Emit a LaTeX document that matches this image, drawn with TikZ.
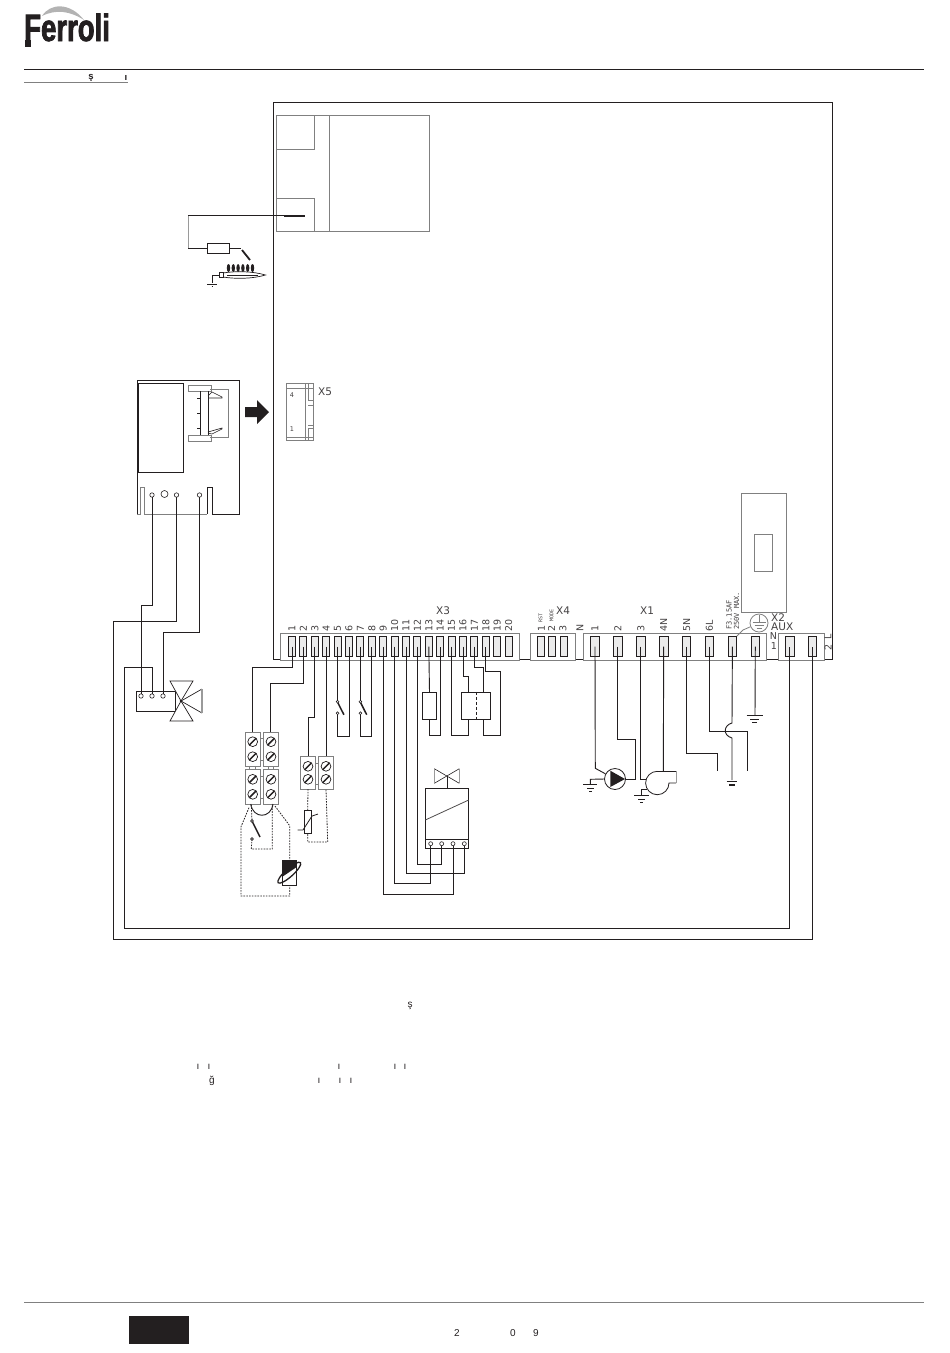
\documentclass[tikz,border=0pt]{standalone}
\usepackage{fontspec}
\setmainfont{Liberation Sans}
\newfontfamily\labfont{DejaVu Sans}
\newfontfamily\monofont{DejaVu Sans Mono}
\newfontfamily\logofont[FakeStretch=.725,BoldFeatures={FakeBold=2}]{Liberation Sans}
\usetikzlibrary{calc}
\definecolor{ink}{RGB}{35,31,32}
\definecolor{pale}{RGB}{128,128,128}
\tikzset{
	wire/.style={ink,line width=.92pt,line join=miter},
	outl/.style={pale,line width=.8pt},
	dotw/.style={ink,line width=.8pt,dash pattern=on 1.6pt off 1.2pt},
	xterm/.style={draw=ink,fill=black!8,line width=.85pt,minimum width=7pt,minimum height=20pt,inner sep=0pt,outer sep=0pt},
	ximm/.style={xterm,minimum width=8.5pt},
	pin/.style={circle,draw=ink,fill=white,line width=.6pt,minimum size=4.4pt,inner sep=0pt,outer sep=0pt},
	tblock/.style={draw=pale,fill=white,line width=.9pt,inner sep=0pt,outer sep=0pt,minimum width=15pt},
	numlab/.style={rotate=90,anchor=west,inner sep=0pt,text=ink!85,font=\labfont\fontsize{9.5}{9.5}\selectfont},
	tinylab/.style={rotate=90,anchor=west,inner sep=0pt,text=ink!85,font=\monofont\fontsize{5}{5}\selectfont},
	fuselab/.style={rotate=90,anchor=west,inner sep=0pt,text=ink!85,font=\monofont\fontsize{7}{7}\selectfont},
	namelab/.style={inner sep=0pt,text=ink!85,font=\labfont\fontsize{10.5}{10.5}\selectfont},
	pagetxt/.style={inner sep=0pt,text=ink,font=\fontsize{10}{10}\selectfont},
}
\begin{document}
\begin{tikzpicture}[x=1pt,y=-1pt]
	\useasboundingbox (0,0) rectangle (950,1353);
	% header
	\fill[pale!60] (42,16) .. controls (50,3) and (70,2) .. (84,20) .. controls (70,11) and (56,9) .. (42,16);
	\node[anchor=base west,inner sep=0pt,text=ink,font=\logofont\bfseries\fontsize{38}{38}\selectfont] (logo) at (24,41) {Ferroli};
	\fill[ink] (24.5,40) rectangle (31,47);
	\draw[ink,line width=1.4pt] (24,69.5) -- (924,69.5);
	\draw[pale,line width=1.4pt] (24,82.5) -- (128,82.5);
	\node[pagetxt,font=\bfseries\fontsize{9.5}{9.5}\selectfont] (hs) at (91,78) {ş};
	\node[pagetxt,font=\bfseries\fontsize{9.5}{9.5}\selectfont] (hi) at (126,78) {ı};
	% board
	\draw[ink,line width=1pt] (281,659) -- (273.7,659) -- (273.7,102) -- (832,102) -- (832,659) -- (824,659);
	\draw[ink,line width=1pt] (519,659) -- (530,659);
	\draw[ink,line width=1pt] (575,659) -- (583,659);
	\draw[ink,line width=1pt] (766,659) -- (778,659);
	\draw[outl] (276.7,115.3) rectangle (429.7,231.5);
	\draw[outl] (276.7,149.7) -- (314,149.7) -- (314,115.3);
	\draw[outl] (276.7,198) -- (314,198) -- (314,231.5);
	\draw[outl] (329,115.3) -- (329,231.5);
	\draw[outl] (741.7,493) rectangle (786.5,612);
	\draw[outl] (754,534) rectangle (772,571);
	% ignition
	\node[draw=ink,line width=.9pt,minimum width=22pt,minimum height=10pt,inner sep=0pt] (igres) at (218,248) {};
	\coordinate (igcon) at (284,215.5);
	\draw[wire] (igcon) -- (188,215.5);
	\draw[pale!80,line width=1pt] (188,215.5) -- (188,248);
	\draw[wire] (188,248) -- (igres);
	\draw[wire] (igres) -- (241,248);
	\draw[ink,line width=2pt] (284,215.5) -- (305,215.5);
	\draw[ink,line width=1.8pt] (242,250) -- (250,260);
	\draw[ink,line width=.7pt] (223,273) .. controls (235,271) and (252,271) .. (265.5,275) .. controls (252,279) and (235,279) .. (223,277);
	\draw[ink,line width=.7pt] (219,272) rectangle (223,277);
	\foreach \i in {0,...,5}
		\fill[ink] ({228.5+4.8*\i},268) ellipse (1.7 and 4);
	\draw[ink,line width=.7pt] (227,275) -- (258,275);
	\draw[ink,line width=.7pt] (219,275) -- (212,275) -- (212,283);
	\draw[ink,line width=.8pt] (207,284) -- (217,284);
	\draw[ink,line width=.8pt] (211.5,286.5) -- (212.5,286.5);
	% X5
	\draw[outl] (286,383) rectangle (313,440);
	\draw[outl] (286,388) -- (313,388);
	\draw[outl] (286,437) -- (313,437);
	\draw[outl] (305,383) -- (305,440);
	\draw[outl] (308,383) -- (308,400) -- (313,400);
	\draw[outl] (308,405) -- (313,405);
	\draw[outl] (308,440) -- (308,428) -- (313,428);
	\draw[outl] (308,425) -- (313,425);
	\node[inner sep=0pt,text=ink!85,font=\labfont\fontsize{6.5}{6.5}\selectfont] (xv4) at (292,395) {4};
	\node[inner sep=0pt,text=ink!85,font=\labfont\fontsize{6.5}{6.5}\selectfont] (xv1) at (292,429) {1};
	\node[namelab] (xv) at (325,392) {X5};
	\fill[ink] (245,407) -- (257,407) -- (257,400) -- (269,412) -- (257,424) -- (257,417) -- (245,417) -- cycle;
	% left module
	\draw[ink,line width=.9pt] (137,514) -- (137,380) -- (239.5,380) -- (239.5,514) -- (212,514) -- (212,487) -- (207,487) -- (207,514);
	\draw[outl] (207,514) -- (144,514) -- (144,487) -- (140.5,487) -- (140.5,514) -- (137,514);
	\draw[ink,line width=.9pt] (138,383) rectangle (183,472);
	\draw[outl] (188,385) rectangle (211,391);
	\draw[outl] (188,435) rectangle (211,441);
	\draw[outl] (210,389) -- (228,389) -- (228,437) -- (210,437);
	\draw[ink,line width=.8pt] (200,391) -- (200,435);
	\draw[ink,line width=.8pt] (208,391) -- (208,435);
	\draw[ink,line width=.8pt] (200,398) -- (197,398);
	\draw[ink,line width=.8pt] (200,413) -- (197,413);
	\draw[ink,line width=.8pt] (200,428) -- (197,428);
	\draw[ink,line width=.6pt] (208,396) -- (212,392) -- (222,397) -- (222,398) -- (209,398);
	\draw[ink,line width=.6pt] (208,432) -- (222,428) -- (222,429) -- (212,434) -- (208,433);
	\node[pin] (lma) at (152,495) {};
	\node[pin,minimum size=7pt] (lmb) at (164.5,494) {};
	\node[pin] (lmc) at (176.5,495) {};
	\node[pin] (lmd) at (199.5,495) {};
	% X3
	\draw[outl,fill=white] (280.7,633) rectangle (519.3,660);
	\foreach \i in {1,...,20} {
		\node[xterm] (xiii\i) at ({292+11.4*(\i-1)},646.7) {};
		\node[numlab] (nxiii\i) at ({292+11.4*(\i-1)},631.5) {\i};
	}
	\node[namelab] (xiii) at (443,610.5) {X3};
	% X4
	\draw[outl,fill=white] (530,633) rectangle (575,660);
	\node[xterm] (xiva) at (541,646.7) {};
	\node[xterm] (xivb) at (552,646.7) {};
	\node[xterm] (xivc) at (563.5,646.7) {};
	\node[numlab] (nxiva) at (541.5,631.5) {1};
	\node[numlab] (nxivb) at (551.5,631.5) {2};
	\node[numlab] (nxivc) at (563,631.5) {3};
	\node[tinylab] (nrst) at (540.5,623) {RST};
	\node[tinylab] (nmode) at (551.5,621.5) {MODE};
	\node[namelab] (xiv) at (563,611) {X4};
	\node[numlab] (nn) at (580,632) {N};
	% X1
	\draw[outl,fill=white] (583,633) rectangle (766,660);
	\foreach \i/\t in {1/1,2/2,3/3,4/4N,5/5N,6/6L,7/,8/} {
		\node[ximm] (xi\i) at ({595+22.9*(\i-1)},646.7) {};
		\node[numlab] (nxi\i) at ({595+22.9*(\i-1)},631.5) {\t};
	}
	\node[namelab] (xi) at (647,611) {X1};
	\node[fuselab] (nfuse) at (729,630) {F3.15AF};
	\node[fuselab] (nmax) at (736.5,630) {250V MAX.};
	% X2
	\draw[outl,fill=white] (778,633) rectangle (824,660);
	\node[ximm] (xiia) at (789.7,646.7) {};
	\node[ximm] (xiib) at (812.3,646.7) {};
	\node[circle,draw=pale,line width=.8pt,minimum size=18pt,inner sep=0pt] (ering) at (759,623) {};
	\draw[outl] (759,615) -- (759,622.5);
	\draw[outl] (752.5,622.5) -- (765.5,622.5);
	\draw[outl] (754.5,625.5) -- (763.5,625.5);
	\draw[outl] (756.5,628) -- (761.5,628);
	\draw[outl] (737,636) -- (743,630) -- (ering);
	\node[namelab,anchor=west,font=\labfont\fontsize{10.5}{10.5}\selectfont] (xii) at (771,617.5) {X2};
	\node[namelab,anchor=west,font=\labfont\fontsize{10.5}{10.5}\selectfont] (naux) at (771,626.5) {AUX};
	\node[namelab,font=\labfont\fontsize{9.5}{9.5}\selectfont] (nauxn) at (773.5,636.5) {N};
	\node[namelab,font=\labfont\fontsize{9.5}{9.5}\selectfont] (nauxo) at (774,646) {1};
	\node[numlab] (nauxl) at (828,640) {L};
	\node[numlab] (nauxt) at (828,651) {2};
	% three-way valve
	\draw[wire] (136,691) rectangle (175,711);
	\fill[white] (170,681) -- (193,681) -- (181,701) -- (202,689) -- (202,713) -- (181,701) -- (193,721) -- (170,721) -- (181,701) -- cycle;
	\draw[ink,line width=.7pt] (181,701) -- (170,681) -- (193,681) -- cycle;
	\draw[ink,line width=.7pt] (181,701) -- (170,721) -- (193,721) -- cycle;
	\draw[ink,line width=.7pt] (202,689) -- (181,701) -- (202,713);
	\draw[pale!80,line width=1.1pt] (202,689) -- (202,713);
	\fill[ink] (181,701) circle (1.4);
	\node[pin] (vla) at (141,696) {};
	\node[pin] (vlb) at (152,696) {};
	\node[pin] (vlc) at (163,696) {};
	% terminal strips
	\node[tblock,minimum height=34pt] (tsa) at (252.5,749) {};
	\node[tblock,minimum height=34pt] (tsb) at (270.5,749) {};
	\node[tblock,minimum height=35pt] (tsc) at (252.5,786.5) {};
	\node[tblock,minimum height=35pt] (tsd) at (270.5,786.5) {};
	\node[tblock,minimum height=33pt] (tse) at (308,772.5) {};
	\node[tblock,minimum height=33pt] (tsf) at (326,772.5) {};
	\foreach \px/\py in {252.7/741.7,252.7/756.7,271/741.7,271/756.7,252.7/779.3,252.7/794.3,271/779.3,271/794.3,308/766.3,308/779.3,326/766.3,326/779.3} {
		\draw[ink,line width=.7pt,fill=white] (\px,\py) circle (4.9);
		\draw[ink,line width=1.5pt] (\px-3.3,\py+3.3) -- (\px+3.3,\py-3.3);
	}
	\draw[outl] (260,738) -- (263,738);
	\draw[outl] (260,760) -- (263,760);
	\draw[outl] (260,776) -- (263,776);
	\draw[outl] (260,798) -- (263,798);
	\draw[outl] (315.5,763) -- (318.5,763);
	\draw[outl] (315.5,784) -- (318.5,784);
	\foreach \bx in {249,255,268,273}
		\draw[outl] (\bx,766) -- (\bx,769);
	\draw[wire] (250.7,804) .. controls (253,819) and (271,819) .. (273,804);
	% sensors and gas valve coil
	\coordinate (swa) at (252,821);
	\coordinate (swb) at (252,839);
	\draw[dotw] (251.3,804.5) -- (swa);
	\draw[dotw] (swb) -- (251.3,849) -- (272.3,849) -- (272.3,804);
	\draw[ink,line width=1.5pt] (252.5,822) -- (260,837);
	\draw[ink,line width=.6pt,fill=white] (swa) circle (1.4);
	\draw[ink,line width=.6pt,fill=white] (swb) circle (1.4);
	\coordinate (cola) at (289.7,860);
	\coordinate (colb) at (289.7,885);
	\draw[dotw] (249,807.7) -- (241,826.7) -- (241,896) -- (289.7,896) -- (colb);
	\draw[dotw] (275,806) -- (289.7,825.7) -- (cola);
	\draw[ink,line width=.8pt] (282,860) rectangle (296.7,885);
	\fill[ink] (282,860) -- (296.7,860) -- (296.7,867) -- (282,877) -- cycle;
	\draw[ink,line width=1.3pt,rotate around={42:(289.3,872.7)}] (289.3,872.7) ellipse (15 and 4);
	\draw[ink,line width=.9pt] (282,860) -- (282,885);
	\node[draw=ink,line width=.8pt,fill=white,minimum width=7.5pt,minimum height=23.5pt,inner sep=0pt] (ntc) at (307.7,822) {};
	\draw[ink,line width=.8pt] (297.7,830) -- (303,830) -- (312,816) -- (318,814);
	\draw[dotw] (tse.south) -- (ntc.north);
	\draw[dotw] (ntc.south) -- (307.7,842) -- (327.7,842) -- (tsf.south);
	% gas valve
	\draw[wire] (425.3,788.3) rectangle (468.7,848.3);
	\draw[wire] (425.3,839.3) -- (468.7,839.3);
	\draw[ink!80,line width=.8pt] (425.3,820) -- (468.7,800);
	\foreach \i/\gx in {1/430.7,2/441.7,3/453,4/464.3}
		\node[pin,minimum size=4pt] (gv\i) at (\gx,843.7) {};
	\draw[ink,line width=.6pt] (434.3,768.7) -- (459.3,783.3);
	\draw[ink,line width=.6pt] (434.3,783.3) -- (459.3,768.7);
	\draw[pale!80,line width=1.1pt] (434.3,768.7) -- (434.3,783.3);
	\draw[pale!80,line width=1.1pt] (459.3,768.7) -- (459.3,783.3);
	\draw[wire] (447.3,776) -- (447.3,788.3);
	% load symbols under X3
	\node[draw=ink,line width=.9pt,minimum width=14.4pt,minimum height=27pt,inner sep=0pt] (rly) at (429.5,705.7) {};
	\node[draw=ink,line width=.9pt,minimum width=28.6pt,minimum height=27pt,inner sep=0pt] (rlz) at (476,705.7) {};
	\draw[ink,line width=.8pt,dash pattern=on 3pt off 2pt] (rlz.north) -- (rlz.south);
	% wires from X3
	\draw[wire] (xiii1.center) |- (tsa.north |- 0,667) -- (tsa.north);
	\draw[wire] (xiii2.center) |- (tsb.north |- 0,683) -- (tsb.north);
	\draw[wire] (xiii3.center) |- (tse.north |- 0,717.7) -- (tse.north);
	\draw[wire] (xiii4.center) -- (xiii4 |- tsf.north);
	\foreach \a/\b in {5/6,7/8} {
		\coordinate (swt\a) at ($(xiii\a)+(0,55)$);
		\coordinate (swd\a) at ($(xiii\a)+(0,66.5)$);
		\draw[wire] (xiii\a.center) -- (swt\a);
		\draw[wire] (swd\a) |- (xiii\b |- 0,736) -- (xiii\b.center);
		\draw[ink,line width=1.5pt] ($(swt\a)+(0,.5)$) -- ($(swt\a)+(6.3,13)$);
		\draw[ink,line width=.6pt,fill=white] (swt\a) circle (1.4);
		\draw[ink,line width=.6pt,fill=white] (swd\a) circle (1.4);
	}
	\draw[wire] (xiii9.center) |- (gv3 |- 0,894) -- (gv3);
	\draw[wire] (xiii10.center) |- (gv1 |- 0,883) -- (gv1);
	\draw[wire] (xiii11.center) |- (gv4 |- 0,873) -- (gv4);
	\draw[wire] (xiii12.center) |- (gv2 |- 0,864) -- (gv2);
	\draw[wire] (xiii13.center) -- (rly.north);
	\draw[wire] (rly.south) |- (xiii14 |- 0,735) -- (xiii14.center);
	\draw[wire] (xiii15.center) |- (468.3,735) -- (468.3,719.2);
	\draw[wire] (xiii16.center) |- (468.3,676) -- (468.3,692.2);
	\draw[wire] (xiii17.center) |- (483.3,667.7) -- (483.3,692.2);
	\draw[wire] (483.3,719.2) |- (500,735) -- (500,671.3) -| (xiii18.center);
	% wires from X1
	\node[circle,draw=ink,fill=white,line width=.8pt,minimum size=21pt,inner sep=0pt] (pump) at (615,779) {};
	\fill[ink] (610.3,770.7) -- (625,779) -- (610.3,787) -- cycle;
	\draw[wire] (xi1.center) -- (595.3,768.3) -- (pump);
	\draw[wire] (xi2.center) |- (635.3,739.3) |- (pump.east);
	\draw[wire] (pump.west) -- (590.3,779.3) -- (590.3,784.3);
	\draw[ink,line width=.8pt] (583.3,784.5) -- (597.3,784.5);
	\draw[ink,line width=.8pt] (587,788) -- (594,788);
	\draw[ink,line width=.8pt] (589,791) -- (592,791);
	\coordinate (fanin) at (646,779.3);
	\coordinate (fanout) at (663.3,771.3);
	\draw[ink,line width=.8pt] (657.3,771.3) arc[start angle=-90,end angle=-360,radius=11.7] -- (676,783);
	\draw[wire] (657.3,771.3) -- (676,771.3);
	\draw[pale!80,line width=1pt] (676,771.3) -- (676,783);
	\draw[wire] (xi3.center) |- (fanin);
	\draw[wire] (xi4.center) -- (fanout);
	\draw[wire] (646.5,789.3) -- (641.7,789.3) -- (641.7,795);
	\draw[ink,line width=.8pt] (634,795) -- (648.7,795);
	\draw[ink,line width=.8pt] (638,799) -- (644.7,799);
	\draw[ink,line width=.8pt] (640,802) -- (642.7,802);
	\coordinate (lna) at (717.3,770.7);
	\coordinate (lnb) at (747.3,770.7);
	\draw[wire] (xi5.center) |- (717.3,753.3) -- (lna);
	\draw[wire] (xi6.center) |- (747.3,731.3) -- (lnb);
	\draw[wire] (xi7.center) -- (732,723) .. controls (724,725) and (722,735) .. (732,738) -- (732,780);
	\draw[ink,line width=1.1pt] (726.7,781.5) -- (737.3,781.5);
	\draw[ink,line width=1.1pt] (729,785) -- (735,785);
	\draw[wire] (xi8.center) -- (755,715);
	\draw[ink,line width=.8pt] (746.7,715.5) -- (762.7,715.5);
	\draw[ink,line width=.8pt] (750,719) -- (759,719);
	\draw[ink,line width=.8pt] (752,722) -- (757,722);
	% long runs
	\draw[wire] (lma) |- (141,605) -- (vla);
	\draw[wire] (lmc) |- (113,621) |- (812.3,939) -- (xiib.center);
	\draw[wire] (lmd) |- (163,632) -- (vlc);
	\draw[wire] (vlb) |- (124,667) |- (789.7,928) -- (xiia.center);
	% page text
	\node[pagetxt] (ta) at (410,1006) {ş};
	\node[pagetxt] (tb) at (198,1067) {ı};
	\node[pagetxt] (tc) at (209,1067) {ı};
	\node[pagetxt] (td) at (339,1067) {ı};
	\node[pagetxt] (te) at (395,1067) {ı};
	\node[pagetxt] (tf) at (405,1067) {ı};
	\node[pagetxt] (tg) at (212,1081) {ğ};
	\node[pagetxt] (th) at (319,1081) {ı};
	\node[pagetxt] (ti) at (340,1081) {ı};
	\node[pagetxt] (tj) at (351,1081) {ı};
	% footer
	\draw[pale,line width=1.1pt] (24,1302.5) -- (924,1302.5);
	\fill[ink] (128.5,1316) rectangle (188.5,1344);
	\node[pagetxt] (fa) at (457,1333) {2};
	\node[pagetxt] (fb) at (513,1333) {0};
	\node[pagetxt] (fc) at (536,1333) {9};
\end{tikzpicture}
\end{document}
